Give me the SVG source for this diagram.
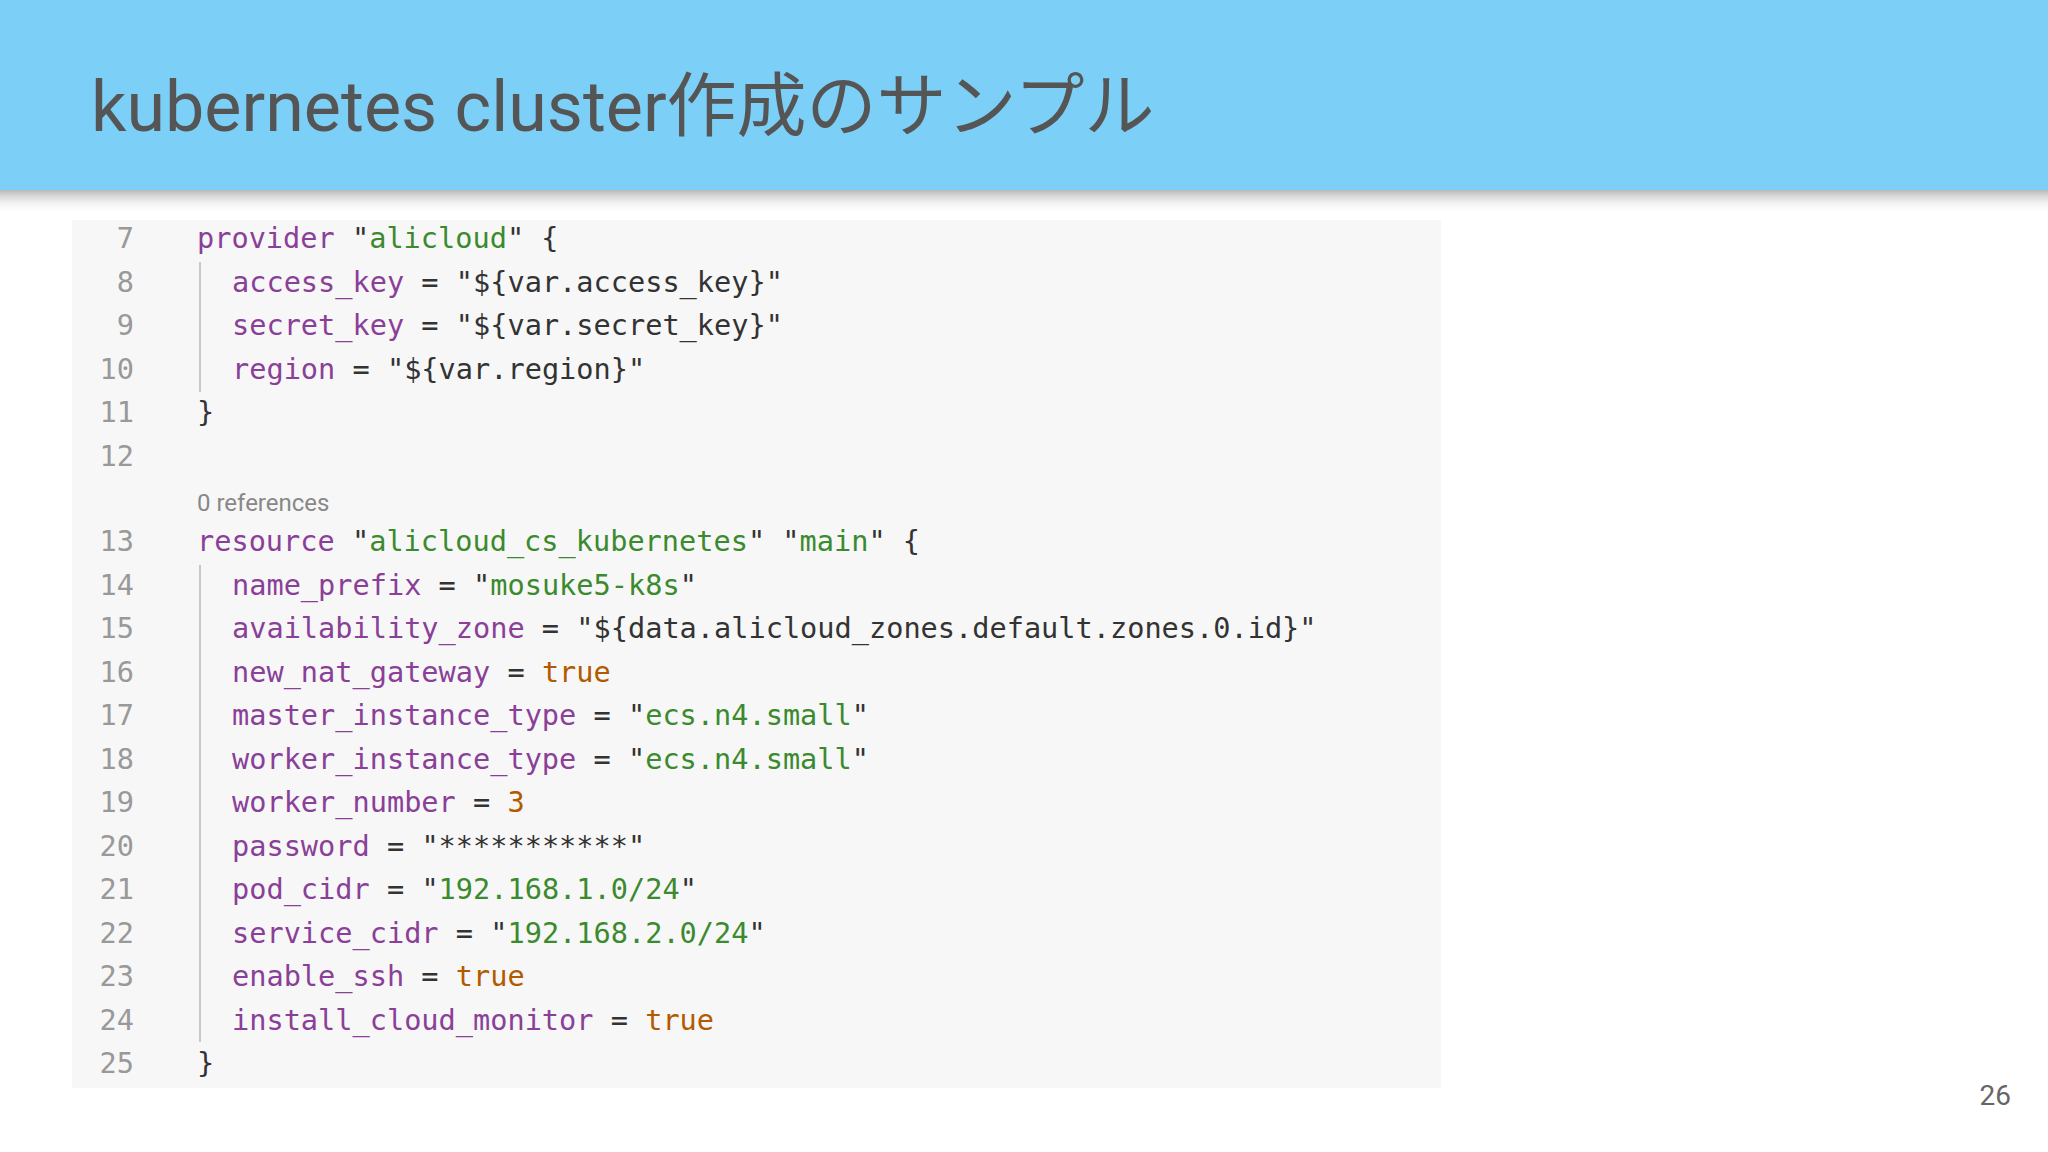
<svg xmlns="http://www.w3.org/2000/svg" width="2048" height="1152" viewBox="0 0 2048 1152">
<defs>
<linearGradient id="sh" x1="0" y1="0" x2="0" y2="1"><stop offset="0" stop-color="#b9b9b9"/><stop offset="1" stop-color="#ffffff" stop-opacity="0"/></linearGradient>
</defs>
<style>
.c{font-family:"DejaVu Sans Mono",monospace;font-size:28.6px;fill:#333}
.n{font-family:"DejaVu Sans Mono",monospace;font-size:28.6px;fill:#999;text-anchor:end}
.k{fill:#8a3f98}.s{fill:#3b8a2e}.o{fill:#b35a00}
</style>
<rect width="2048" height="1152" fill="#fff"/>
<rect width="2048" height="190" fill="#7ccff6"/>
<rect y="190" width="2048" height="24" fill="url(#sh)"/>
<text x="91" y="131" font-family="Roboto,'Noto Sans CJK JP',sans-serif" font-size="70" fill="#555">kubernetes cluster作成のサンプル</text>
<rect x="72" y="220" width="1369" height="868" fill="#f7f7f7"/>
<g id="guides" stroke="#c8c8c8" stroke-width="2"><line x1="200" y1="262" x2="200" y2="392"/><line x1="200" y1="565" x2="200" y2="1042"/></g>
<g id="nums">
<text class="n" x="134" y="248">7</text><text class="n" x="134" y="291.5">8</text><text class="n" x="134" y="335">9</text><text class="n" x="134" y="378.5">10</text><text class="n" x="134" y="422">11</text><text class="n" x="134" y="465.5">12</text>
<text class="n" x="134" y="551">13</text><text class="n" x="134" y="594.5">14</text><text class="n" x="134" y="638">15</text><text class="n" x="134" y="681.5">16</text><text class="n" x="134" y="725">17</text><text class="n" x="134" y="768.5">18</text><text class="n" x="134" y="812">19</text><text class="n" x="134" y="855.5">20</text><text class="n" x="134" y="899">21</text><text class="n" x="134" y="942.5">22</text><text class="n" x="134" y="986">23</text><text class="n" x="134" y="1029.5">24</text><text class="n" x="134" y="1073">25</text>
</g>
<g id="code" xml:space="preserve">
<text class="c" x="197" y="248"><tspan class="k">provider</tspan> "<tspan class="s">alicloud</tspan>" {</text>
<text class="c" x="232" y="291.5"><tspan class="k">access_key</tspan> = "${var.access_key}"</text>
<text class="c" x="232" y="335"><tspan class="k">secret_key</tspan> = "${var.secret_key}"</text>
<text class="c" x="232" y="378.5"><tspan class="k">region</tspan> = "${var.region}"</text>
<text class="c" x="197" y="422">}</text>
<text x="197" y="511" font-family="Roboto,sans-serif" font-size="24" fill="#888">0 references</text>
<text class="c" x="197" y="551"><tspan class="k">resource</tspan> "<tspan class="s">alicloud_cs_kubernetes</tspan>" "<tspan class="s">main</tspan>" {</text>
<text class="c" x="232" y="594.5"><tspan class="k">name_prefix</tspan> = "<tspan class="s">mosuke5-k8s</tspan>"</text>
<text class="c" x="232" y="638"><tspan class="k">availability_zone</tspan> = "${data.alicloud_zones.default.zones.0.id}"</text>
<text class="c" x="232" y="681.5"><tspan class="k">new_nat_gateway</tspan> = <tspan class="o">true</tspan></text>
<text class="c" x="232" y="725"><tspan class="k">master_instance_type</tspan> = "<tspan class="s">ecs.n4.small</tspan>"</text>
<text class="c" x="232" y="768.5"><tspan class="k">worker_instance_type</tspan> = "<tspan class="s">ecs.n4.small</tspan>"</text>
<text class="c" x="232" y="812"><tspan class="k">worker_number</tspan> = <tspan class="o">3</tspan></text>
<text class="c" x="232" y="855.5"><tspan class="k">password</tspan> = "***********"</text>
<text class="c" x="232" y="899"><tspan class="k">pod_cidr</tspan> = "<tspan class="s">192.168.1.0/24</tspan>"</text>
<text class="c" x="232" y="942.5"><tspan class="k">service_cidr</tspan> = "<tspan class="s">192.168.2.0/24</tspan>"</text>
<text class="c" x="232" y="986"><tspan class="k">enable_ssh</tspan> = <tspan class="o">true</tspan></text>
<text class="c" x="232" y="1029.5"><tspan class="k">install_cloud_monitor</tspan> = <tspan class="o">true</tspan></text>
<text class="c" x="197" y="1073">}</text>
</g>
<text x="2011" y="1105" text-anchor="end" font-family="Roboto,sans-serif" font-size="28" fill="#666">26</text>
</svg>
